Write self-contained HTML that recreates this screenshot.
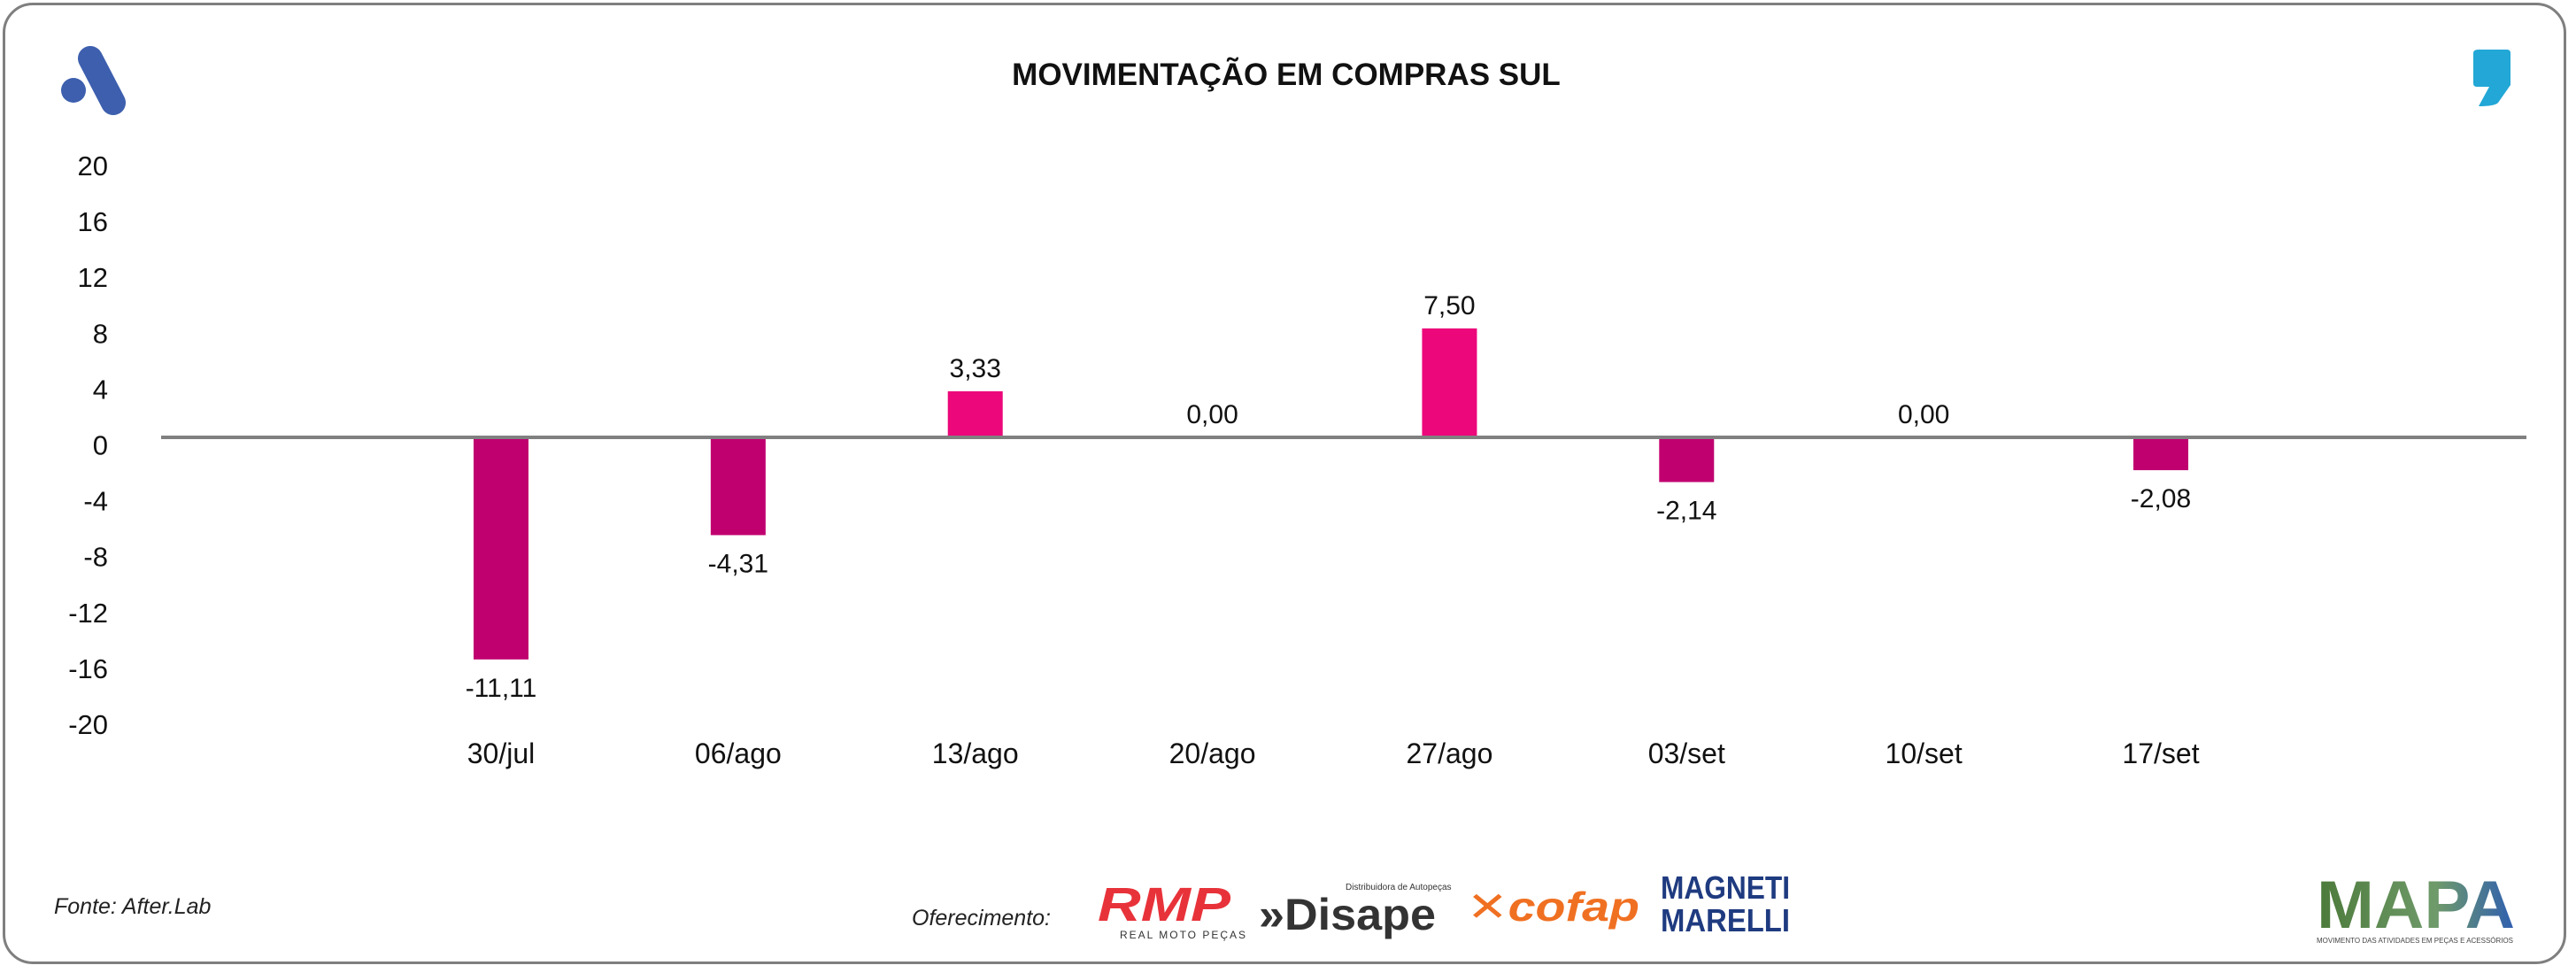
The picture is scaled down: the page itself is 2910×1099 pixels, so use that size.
<!DOCTYPE html>
<html><head><meta charset="utf-8">
<style>
html,body{margin:0;padding:0;background:#fff;}
body{width:2910px;height:1099px;position:relative;overflow:hidden;font-family:"Liberation Sans","DejaVu Sans",sans-serif;}
#frame{position:absolute;left:3px;top:3px;width:2896px;height:1086px;border:3px solid #7f7f7f;border-radius:34px;box-sizing:border-box;}
svg{position:absolute;left:0;top:0;}
</style></head>
<body>
<div id="frame"></div>
<svg id="chart" width="2910" height="1099">
  <g>
    <circle cx="83" cy="102" r="14" fill="#3d5fae"/>
    <line x1="102" y1="66" x2="128" y2="116" stroke="#3d5fae" stroke-width="28" stroke-linecap="round"/>
  </g>
  <path d="M2800 56 H2832 Q2836 56 2836 60 V96 L2822 116 Q2818 120 2800 120 L2812 98 H2798 Q2794 98 2794 94 V60 Q2794 56 2800 56 Z" fill="#22a7d6"/>
  <text x="1453" y="96" text-anchor="middle" font-size="35" font-weight="bold" fill="#111">MOVIMENTAÇÃO EM COMPRAS SUL</text>
  <g id="yaxis"></g>
  <g id="bars"></g>
  <g id="labels"></g>
  <g id="xaxis"></g>
  <text x="61" y="1032" font-size="25" font-style="italic" fill="#222">Fonte: After.Lab</text>
  <text x="1030" y="1045" font-size="25" font-style="italic" fill="#222">Oferecimento:</text>
  <g>
    <text x="1240" y="1040" font-size="54" font-weight="bold" font-style="italic" fill="#e8323a" textLength="150" lengthAdjust="spacingAndGlyphs">RMP</text>
    <text x="1265" y="1060" font-size="12" fill="#333" letter-spacing="2">REAL MOTO PEÇAS</text>
  </g>
  <g>
    <text x="1422" y="1050" font-size="50" font-weight="bold" fill="#333" textLength="200" lengthAdjust="spacingAndGlyphs">»Disape</text>
    <text x="1520" y="1005" font-size="10" fill="#333">Distribuidora de Autopeças</text>
  </g>
  <g>
    <text x="1657" y="1040" font-size="46" font-weight="bold" font-style="italic" fill="#f07022" textLength="195" lengthAdjust="spacingAndGlyphs">✕cofap</text>
  </g>
  <g>
    <text x="1876" y="1015" font-size="36" font-weight="bold" fill="#1f3b80" textLength="146" lengthAdjust="spacingAndGlyphs">MAGNETI</text>
    <text x="1876" y="1052" font-size="36" font-weight="bold" fill="#1f3b80" textLength="146" lengthAdjust="spacingAndGlyphs">MARELLI</text>
  </g>
  <g>
    <defs><linearGradient id="mg" x1="0" x2="1" y1="0" y2="0"><stop offset="0" stop-color="#4c7a3a"/><stop offset="0.6" stop-color="#6f9a6a"/><stop offset="1" stop-color="#2f5fb0"/></linearGradient></defs>
    <text x="2617" y="1048" font-size="76" font-weight="bold" fill="url(#mg)" textLength="224" lengthAdjust="spacingAndGlyphs">MAPA</text>
    <text x="2617" y="1065" font-size="8" fill="#444" textLength="222" lengthAdjust="spacingAndGlyphs">MOVIMENTO DAS ATIVIDADES EM PEÇAS E ACESSÓRIOS</text>
  </g>
</svg>
<script>
const categories = ["30/jul","06/ago","13/ago","20/ago","27/ago","03/set","10/set","17/set"];
const barValues = [-15.9, -7.0, 3.3, 0, 7.8, -3.2, 0, -2.35];
const printedLabels = ["-11,11","-4,31","3,33","0,00","7,50","-2,14","0,00","-2,08"];
const yTicks = [20,16,12,8,4,0,-4,-8,-12,-16,-20];

const NS = "http://www.w3.org/2000/svg";
const yMin=-20, yMax=20, plotTop=187, plotBot=818, zeroLineY=494;
const tickY = v => plotTop + (yMax - v) / (yMax - yMin) * (plotBot - plotTop);
const barY = v => zeroLineY - v * (plotBot - plotTop) / (yMax - yMin);
const xStart=566, xEnd=2441;
const xPos = i => xStart + i * (xEnd - xStart) / (categories.length - 1);
function mk(tag, attrs, parent){const e=document.createElementNS(NS,tag);for(const k in attrs)e.setAttribute(k,attrs[k]);parent.appendChild(e);return e;}

const yg=document.getElementById('yaxis');
yTicks.forEach(v=>{
  const t=mk('text',{x:122,y:tickY(v)+11,'text-anchor':'end','font-size':31,fill:'#111'},yg);
  
  
  t.textContent=v;
});

const bg=document.getElementById('bars'), lg=document.getElementById('labels'), xg=document.getElementById('xaxis');
const bw=62;
categories.forEach((c,i)=>{
  const v=barValues[i], x=xPos(i), y0=barY(0), y1=barY(v);
  if(v!==0){
    const r=mk('rect',{x:x-bw/2,y:Math.min(y0,y1),width:bw,height:Math.abs(y1-y0),fill:v<0?'#c0006f':'#ec077b'},bg);
    
    
  }
  const ly = v>=0 ? y1-16 : y1+42;
  const t=mk('text',{x:x,y:ly,'text-anchor':'middle','font-size':30,fill:'#111'},lg);
  
  
  t.textContent=printedLabels[i];
  const xl=mk('text',{x:x,y:862,'text-anchor':'middle','font-size':32,fill:'#111'},xg);
  
  
  xl.textContent=c;
});
const zl=mk('line',{x1:182,x2:2854,y1:barY(0),y2:barY(0),stroke:'#808080','stroke-width':4},xg);


</script>
</body></html>
